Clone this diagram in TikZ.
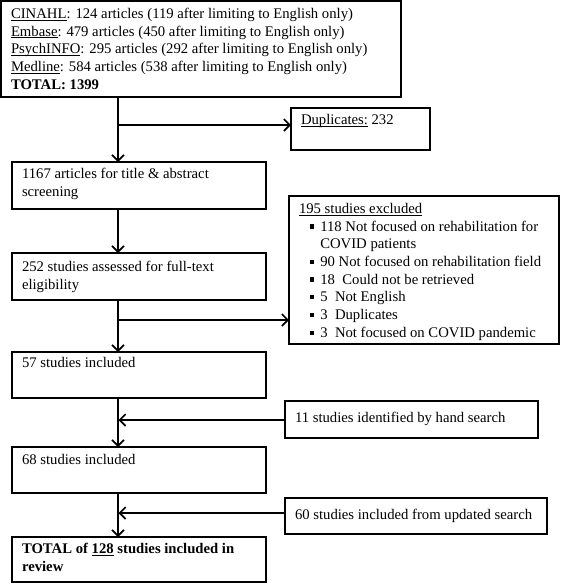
\documentclass[tikz,border=0pt]{standalone}
\usepackage{fontspec}
\setmainfont{Liberation Serif}
\usetikzlibrary{arrows.meta,calc}
\newsavebox\ulbox
\newcommand{\uln}[1]{\leavevmode\sbox\ulbox{#1}\rlap{\rule[-2pt]{\wd\ulbox}{0.8pt}}\usebox\ulbox}
\newcommand{\bxc}[4]{\parbox[c][#2pt][t]{#1pt}{\vspace*{#3pt}\leftskip=10pt\relax #4\par}}
\newcommand{\sqbul}{\raisebox{2.5pt}{\rule{4.3pt}{4.3pt}}}
\tikzset{
  box/.style={draw, line width=1.6pt, anchor=north west, inner sep=0pt, outer sep=0pt,
    font=\fontsize{14.7}{17.7}\selectfont},
  arr/.style={line width=1.6pt, -{Straight Barb[length=6pt,width=12pt]}}
}
\begin{document}
\begin{tikzpicture}[x=1pt,y=-1pt]
\fill[white] (0,0) rectangle (561,584);
\useasboundingbox (0,0) rectangle (561,584);
% boxes
\node[box] (top) at (1,1) {\bxc{400}{96}{7}{%
\uln{CINAHL}: 124 articles (119 after limiting to English only)\\
\uln{Embase}: 479 articles (450 after limiting to English only)\\
\uln{PsychINFO}: 295 articles (292 after limiting to English only)\\
\uln{Medline}: 584 articles (538 after limiting to English only)\\
\textbf{TOTAL: 1399}}};
\node[box] (dup) at (291,108) {\bxc{139}{42}{6.5}{\uln{Duplicates:} 232}};
\node[box] (b1167) at (12,162) {\bxc{254}{47}{6}{1167 articles for title \& abstract\\screening}};
\node[box] (b252) at (12,253) {\bxc{254}{47}{8}{252 studies assessed for full-text\\eligibility}};
\node[box] (excl) at (289,196) {\bxc{270}{148}{7.2}{%
\uln{195 studies excluded}\\
\hspace*{11pt}\sqbul\hspace{6pt}118 Not focused on rehabilitation for\\
\hspace*{21.3pt}COVID patients\\
\hspace*{11pt}\sqbul\hspace{6pt}90 Not focused on rehabilitation field\\
\hspace*{11pt}\sqbul\hspace{6pt}18~ Could not be retrieved\\
\hspace*{11pt}\sqbul\hspace{6pt}5~ Not English\\
\hspace*{11pt}\sqbul\hspace{6pt}3~ Duplicates\\
\hspace*{11pt}\sqbul\hspace{6pt}3~ Not focused on COVID pandemic}};
\node[box] (b57) at (12,352) {\bxc{254}{46}{5}{57 studies included}};
\node[box] (hand) at (285,401) {\bxc{253}{37}{11.5}{11 studies identified by hand search}};
\node[box] (b68) at (12,447) {\bxc{254}{46}{7.5}{68 studies included}};
\node[box] (upd) at (285,498) {\bxc{262}{36}{11.5}{60 studies included from updated search}};
\node[box] (total) at (12,537) {\bxc{254}{45}{6}{\textbf{TOTAL of \uln{128} studies included in}\\\textbf{review}}};
% spine and junctions
\coordinate (sx) at (118,0);
\coordinate (j1) at (118,125);
\coordinate (j2) at (118,320);
\coordinate (j3) at (118.5,420);
\coordinate (j4) at (118.5,513);
% connectors
\draw[arr] (top.south -| sx) -- (b1167.north -| sx);
\draw[arr] (j1) -- (j1 -| dup.west);
\draw[arr] (b1167.south -| sx) -- (b252.north -| sx);
\draw[arr] (b252.south -| sx) -- (b57.north -| sx);
\draw[arr] (j2) -- (j2 -| excl.west);
\draw[arr] (b57.south -| sx) -- (b68.north -| sx);
\draw[arr] (j3 -| hand.west) -- (j3);
\draw[arr] (b68.south -| sx) -- (total.north -| sx);
\draw[arr] (j4 -| upd.west) -- (j4);
\end{tikzpicture}
\end{document}
